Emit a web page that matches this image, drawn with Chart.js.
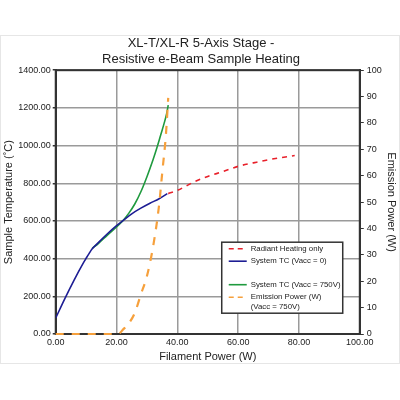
<!DOCTYPE html>
<html>
<head>
<meta charset="utf-8">
<script src="https://cdn.jsdelivr.net/npm/chart.js@4.4.1/dist/chart.umd.min.js"></script>
<style>
  html, body { margin: 0; padding: 0; background: #fff; }
  #wrap { width: 400px; height: 400px; }
</style>
</head>
<body>
<div id="wrap"><canvas id="heatChart" width="400" height="400"></canvas></div>
<script>
// Valores
var radiantX = [37, 40, 46, 50, 55, 60, 65, 70, 75, 78.6];
var radiantY = [745, 762, 811, 836, 862, 890, 908, 925, 938, 947];

var tcZeroX = [0, 3, 6, 9, 10, 11, 12, 14, 17, 20, 22, 25, 28, 31, 34, 36.7];
var tcZeroY = [85, 188, 285, 375, 402, 428, 452, 485, 532, 575, 600, 638, 668, 694, 718, 745];

var tc750X = [12, 14, 17, 20, 22, 24, 26, 28, 30, 32, 33.3, 34.5, 35.6, 36.5, 37];
var tc750Y = [455, 480, 525, 568, 600, 640, 690, 755, 835, 925, 990, 1055, 1115, 1170, 1215];

var emissionX = [0, 5, 10, 15, 20, 21, 22, 24, 26, 28, 30, 32, 33.9, 35.1, 36.2, 37];
var emissionW = [0, 0, 0, 0, 0, 0.3, 1.5, 4, 8, 15, 22, 33, 48, 62, 75, 89.5];

var xTicks = [0, 20, 40, 60, 80, 100];
var tempTicks = [0, 200, 400, 600, 800, 1000, 1200, 1400];
var powerTicks = [0, 10, 20, 30, 40, 50, 60, 70, 80, 90, 100];

function pares(xs, ys) {
    return xs.map(function (x, i) { return { x: x, y: ys[i] }; });
}

var fonte = 'Liberation Sans, Arial, sans-serif';

// Moldura e legenda desenhadas dentro da área do gráfico, como no original
var legendaInterna = {
    id: 'legendaInterna',
    beforeDraw: function (chart) {
        var ctx = chart.ctx;
        ctx.save();
        ctx.strokeStyle = '#e6e6e6';
        ctx.lineWidth = 1;
        ctx.strokeRect(0.5, 35.5, 399, 328);
        ctx.restore();
    },
    beforeDatasetsDraw: function (chart) {
        var ctx = chart.ctx;
        var a = chart.chartArea;
        ctx.save();
        ctx.strokeStyle = '#333';
        ctx.lineWidth = 2;
        ctx.strokeRect(a.left, a.top, a.right - a.left, a.bottom - a.top);
        ctx.restore();
    },
    afterDraw: function (chart) {
        var ctx = chart.ctx;
        var a = chart.chartArea;
        ctx.save();
        var bx = a.left + 166, by = a.top + 172, bw = 121, bh = 71;
        ctx.fillStyle = '#fff';
        ctx.fillRect(bx, by, bw, bh);
        ctx.strokeStyle = '#333';
        ctx.lineWidth = 1.5;
        ctx.strokeRect(bx, by, bw, bh);

        var linhas = [6.5, 19, 42.5, 55];
        var ordem = [0, 1, 2, 3];
        ctx.font = '7.8px ' + fonte;
        ctx.textBaseline = 'middle';
        ordem.forEach(function (idx, k) {
            var ds = chart.data.datasets[idx];
            var y = by + linhas[k];
            ctx.strokeStyle = ds.borderColor;
            ctx.lineWidth = 1.6;
            ctx.setLineDash(ds.borderDash && ds.borderDash.length ? [5, 4] : []);
            ctx.beginPath();
            ctx.moveTo(bx + 7, y);
            ctx.lineTo(bx + 25, y);
            ctx.stroke();
            ctx.setLineDash([]);
            ctx.fillStyle = '#222';
            ds.label.split('\n').forEach(function (t, j) {
                ctx.fillText(t, bx + 29, y + j * 10);
            });
        });
        ctx.restore();
    }
};

var heatChart = new Chart(document.getElementById('heatChart').getContext('2d'), {
    type: 'line',
    data: {
        datasets: [{
            label: 'Radiant Heating only',
            data: pares(radiantX, radiantY),
            yAxisID: 'y',
            borderColor: '#e8202a',
            borderWidth: 1.6,
            borderDash: [5, 5],
            pointRadius: 0,
            order: 2
        }, {
            label: 'System TC (Vacc = 0)',
            data: pares(tcZeroX, tcZeroY),
            yAxisID: 'y',
            borderColor: '#1d1d94',
            borderWidth: 1.6,
            pointRadius: 0,
            order: 1
        }, {
            label: 'System TC (Vacc = 750V)',
            data: pares(tc750X, tc750Y),
            yAxisID: 'y',
            borderColor: '#1f9a3e',
            borderWidth: 1.6,
            pointRadius: 0,
            order: 3
        }, {
            label: 'Emission Power (W)\n(Vacc = 750V)',
            data: pares(emissionX, emissionW),
            yAxisID: 'y1',
            borderColor: '#f6a03c',
            borderWidth: 2.2,
            borderDash: [8, 8],
            pointRadius: 0,
            clip: 4,
            order: 0
        }]
    },
    options: {
        responsive: false,
        animation: false,
        layout: {
            padding: { top: 34, left: 2, right: 0, bottom: 36 }
        },
        elements: {
            line: {
                cubicInterpolationMode: 'monotone'
            }
        },
        scales: {
            x: {
                type: 'linear',
                position: 'bottom',
                min: 0,
                max: 100,
                afterBuildTicks: function (s) { s.ticks = xTicks.map(function (v) { return { value: v }; }); },
                ticks: {
                    color: '#222',
                    font: { family: fonte, size: 9 },
                    padding: 3,
                    maxRotation: 0,
                    callback: function (v) { return Number(v).toFixed(2); }
                },
                grid: { color: '#9a9a9a', lineWidth: 1.5, drawTicks: false },
                border: { color: '#333', width: 2 },
                title: {
                    display: true,
                    text: 'Filament Power (W)',
                    color: '#222',
                    font: { family: fonte, size: 11 },
                    padding: { top: 0, bottom: 0 }
                }
            },
            y: {
                type: 'linear',
                position: 'left',
                min: 0,
                max: 1400,
                afterBuildTicks: function (s) { s.ticks = tempTicks.map(function (v) { return { value: v }; }); },
                ticks: {
                    color: '#222',
                    font: { family: fonte, size: 9 },
                    padding: 2,
                    callback: function (v) { return Number(v).toFixed(2); }
                },
                grid: { color: '#9a9a9a', lineWidth: 1.5, tickLength: 3, tickColor: '#333' },
                border: { color: '#333', width: 2 },
                title: {
                    display: true,
                    text: 'Sample Temperature (˚C)',
                    color: '#222',
                    font: { family: fonte, size: 11 },
                    padding: { top: 0, bottom: 1 }
                }
            },
            y1: {
                type: 'linear',
                position: 'right',
                min: 0,
                max: 100,
                afterBuildTicks: function (s) { s.ticks = powerTicks.map(function (v) { return { value: v }; }); },
                ticks: {
                    color: '#222',
                    font: { family: fonte, size: 9 },
                    padding: 3
                },
                grid: { drawOnChartArea: false, tickLength: 4, tickColor: '#333', lineWidth: 1 },
                border: { color: '#333', width: 2 },
                title: {
                    display: true,
                    text: 'Emission Power (W)',
                    color: '#222',
                    font: { family: fonte, size: 11 },
                    padding: { top: 2, bottom: 0 }
                }
            }
        },
        plugins: {
            legend: { display: false },
            tooltip: { enabled: false },
            title: {
                display: true,
                text: ['XL-T/XL-R 5-Axis Stage -', 'Resistive e-Beam Sample Heating'],
                color: '#222',
                font: { family: fonte, size: 13, weight: 'normal', lineHeight: 1.2 },
                padding: { top: 2, bottom: 3 }
            }
        }
    },
    plugins: [legendaInterna]
});
</script>
</body>
</html>
